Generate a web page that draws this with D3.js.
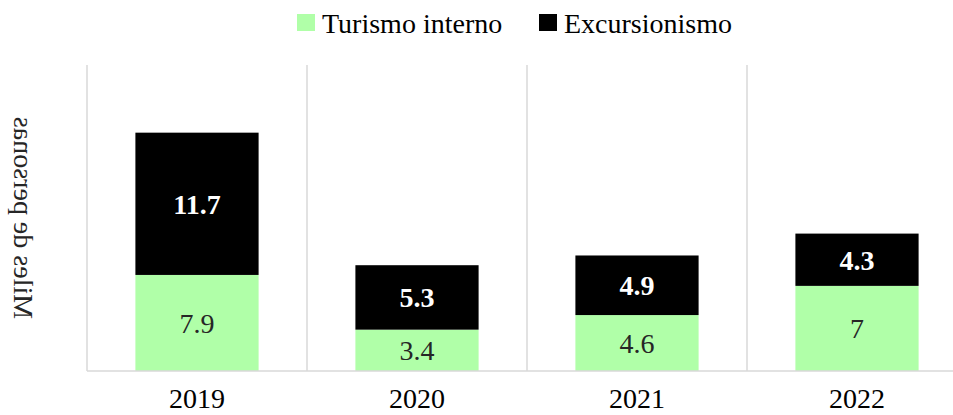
<!DOCTYPE html>
<html lang="es">
<head>
    <meta charset="UTF-8">
    <title>Turismo interno y excursionismo</title>
    <script src="https://d3js.org/d3.v7.min.js"></script>
    <style>
        body { margin: 0; background: #ffffff; }
    </style>
</head>
<body>
    <div id="chart"></div>

    <script>
        // Data
        const years = ["2019", "2020", "2021", "2022"];
        const turismoInterno = [7.9, 3.4, 4.6, 7];
        const excursionismo = [11.7, 5.3, 4.9, 4.3];
        const seriesNames = ["Turismo interno", "Excursionismo"];

        const width = 953;
        const height = 415;
        const colors = { turismo: "#b0ffa8", excursion: "#000000", grid: "#d9d9d9" };

        const svg = d3.select("#chart")
            .append("svg")
            .attr("width", width)
            .attr("height", height)
            .attr("font-family", "'Liberation Serif', 'Times New Roman', Times, serif");

        // Scales
        const x = d3.scaleBand()
            .domain(years)
            .range([87, 967])
            .paddingInner(0.44)
            .paddingOuter(0.22);

        const y = d3.scaleLinear()
            .domain([0, 25])
            .range([371, 67]);

        // Vertical separators between categories
        const step = x.step();
        const x0 = x.range()[0];
        svg.selectAll(".sep")
            .data(years)
            .join("line")
            .attr("class", "sep")
            .attr("x1", (d, i) => x0 + i * step)
            .attr("x2", (d, i) => x0 + i * step)
            .attr("y1", 65)
            .attr("y2", y(0))
            .attr("stroke", colors.grid)
            .attr("stroke-width", 1.5);

        // Stack data
        const rows = years.map((yr, i) => ({ year: yr, turismo: turismoInterno[i], excursion: excursionismo[i] }));
        const stack = d3.stack().keys(["turismo", "excursion"])(rows);

        const layers = svg.selectAll(".layer")
            .data(stack)
            .join("g")
            .attr("class", "layer")
            .attr("fill", d => colors[d.key]);

        layers.selectAll("rect")
            .data(d => d)
            .join("rect")
            .attr("x", d => x(d.data.year))
            .attr("width", x.bandwidth())
            .attr("y", d => y(d[1]))
            .attr("height", d => y(d[0]) - y(d[1]));

        // Value labels
        layers.selectAll("text")
            .data(d => d.map(v => ({ v, key: d.key })))
            .join("text")
            .attr("x", d => x(d.v.data.year) + x.bandwidth() / 2)
            .attr("y", d => (y(d.v[0]) + y(d.v[1])) / 2)
            .attr("dy", "0.35em")
            .attr("text-anchor", "middle")
            .attr("font-size", 28)
            .attr("font-weight", d => d.key === "excursion" ? "bold" : "normal")
            .attr("fill", d => d.key === "excursion" ? "#ffffff" : "#262626")
            .text(d => d.v.data[d.key]);

        // X axis line
        svg.append("line")
            .attr("x1", 87)
            .attr("x2", width)
            .attr("y1", y(0))
            .attr("y2", y(0))
            .attr("stroke", colors.grid)
            .attr("stroke-width", 1.5);

        // Year labels
        svg.selectAll(".year")
            .data(years)
            .join("text")
            .attr("class", "year")
            .attr("x", d => x(d) + x.bandwidth() / 2)
            .attr("y", 408)
            .attr("text-anchor", "middle")
            .attr("font-size", 28)
            .attr("fill", "#000")
            .text(d => d);

        // Y axis title (mirrored as in the source image)
        svg.append("text")
            .attr("transform", "translate(14, 218) rotate(-90) scale(1, -1)")
            .attr("text-anchor", "middle")
            .attr("font-size", 28)
            .attr("fill", "#262626")
            .text("Miles de personas");

        // Legend
        const legendItems = [
            { name: seriesNames[0], color: colors.turismo, x: 297 },
            { name: seriesNames[1], color: colors.excursion, x: 539 }
        ];
        const legend = svg.selectAll(".legend")
            .data(legendItems)
            .join("g")
            .attr("class", "legend")
            .attr("transform", d => `translate(${d.x}, 0)`);

        legend.append("rect")
            .attr("y", 14)
            .attr("width", 18)
            .attr("height", 17)
            .attr("fill", d => d.color);

        legend.append("text")
            .attr("x", 25)
            .attr("y", 33)
            .attr("font-size", 28)
            .attr("fill", "#000")
            .text(d => d.name);
    </script>
</body>
</html>
